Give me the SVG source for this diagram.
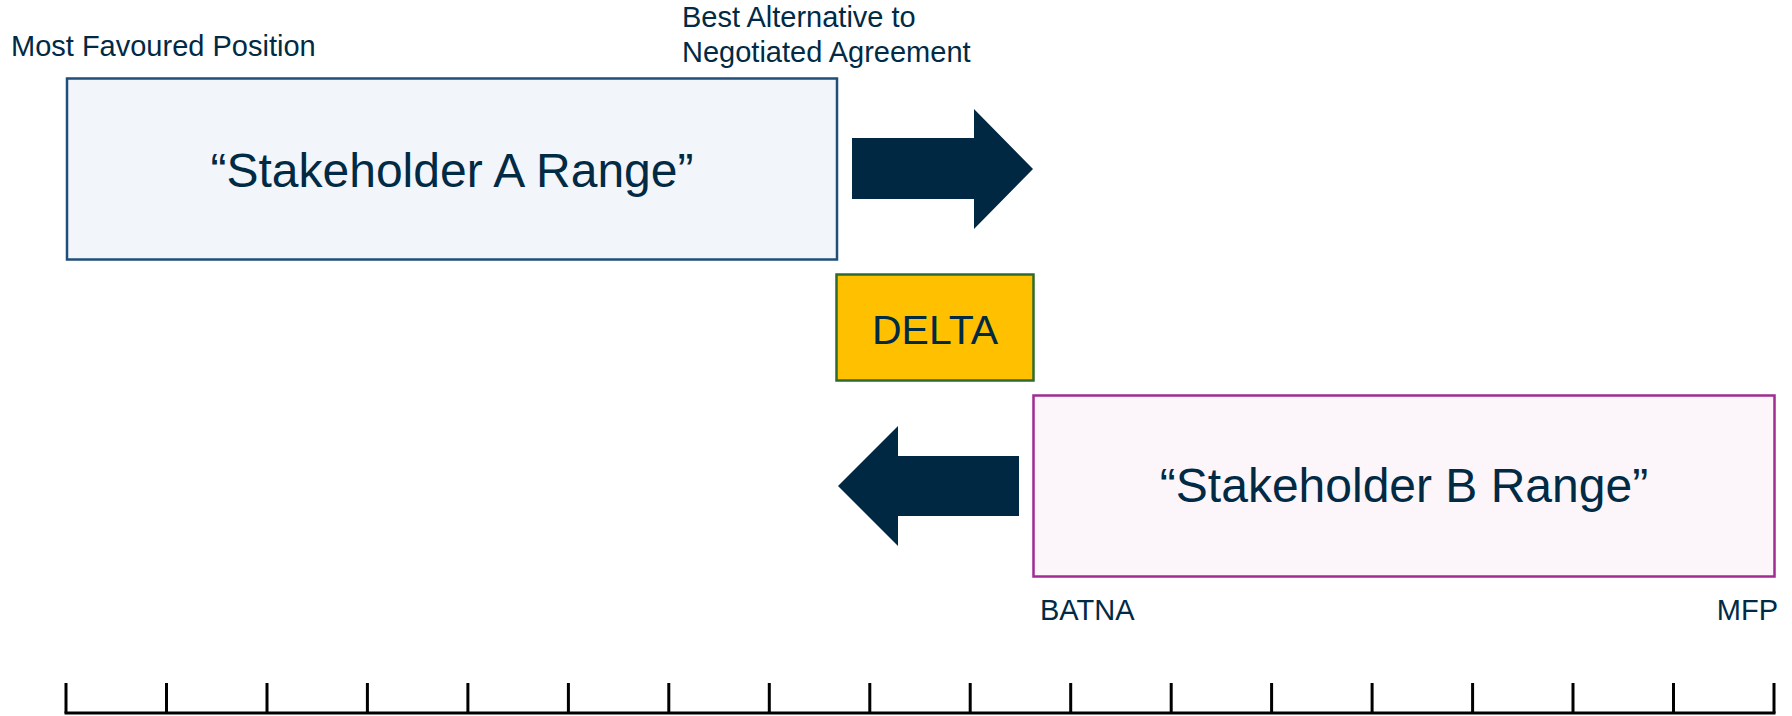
<svg xmlns="http://www.w3.org/2000/svg" width="1792" height="716" viewBox="0 0 1792 716">
<style>
.lbl{font-family:"Liberation Sans",Arial,sans-serif;font-size:29px;fill:#012A45}
.big{font-family:"Liberation Sans",Arial,sans-serif;font-size:48px;fill:#012A45;text-anchor:middle}
.arrow{fill:#012843}
.tick{stroke:#000;stroke-width:3;fill:none}
</style>
<rect width="1792" height="716" fill="#fff"/>
<g id="labels">
<text class="lbl" x="11" y="56">Most Favoured Position</text>
<text class="lbl" x="682" y="27">Best Alternative to</text>
<text class="lbl" x="682" y="62">Negotiated Agreement</text>
<text class="lbl" x="1040" y="620">BATNA</text>
<text class="lbl" x="1778" y="620" text-anchor="end">MFP</text>
</g>
<g id="rangeA">
<rect x="67" y="78.5" width="770" height="181" fill="#F2F5FA" stroke="#1F4E79" stroke-width="2.5"/>
<text class="big" x="452" y="187">“Stakeholder A Range”</text>
</g>
<g id="delta">
<rect x="836.5" y="274.5" width="197" height="106" fill="#FFC000" stroke="#2E6B2E" stroke-width="2.5"/>
<text x="935" y="344" font-family="Liberation Sans, Arial, sans-serif" font-size="41" fill="#012A45" text-anchor="middle">DELTA</text>
</g>
<g id="rangeB">
<rect x="1033.5" y="395.5" width="741" height="181" fill="#FCF5FA" stroke="#A02B93" stroke-width="2.5"/>
<text class="big" x="1404" y="502">“Stakeholder B Range”</text>
</g>
<g id="connectors">
<polygon class="arrow" points="852,138 974,138 974,109 1033,169 974,229 974,199 852,199"/>
<polygon class="arrow" points="1019,456 898,456 898,426 838,486 898,546 898,516 1019,516"/>
</g>
<g id="ruler">
<path class="tick" d="M64.5,713 H1775.5"/>
<path class="tick" d="M66,683V713M166.5,683V713M267,683V713M367.4,683V713M467.9,683V713M568.4,683V713M668.8,683V713M769.3,683V713M869.8,683V713M970.2,683V713M1070.7,683V713M1171.2,683V713M1271.6,683V713M1372.1,683V713M1472.6,683V713M1573,683V713M1673.5,683V713M1774,683V713"/>
</g>
</svg>
